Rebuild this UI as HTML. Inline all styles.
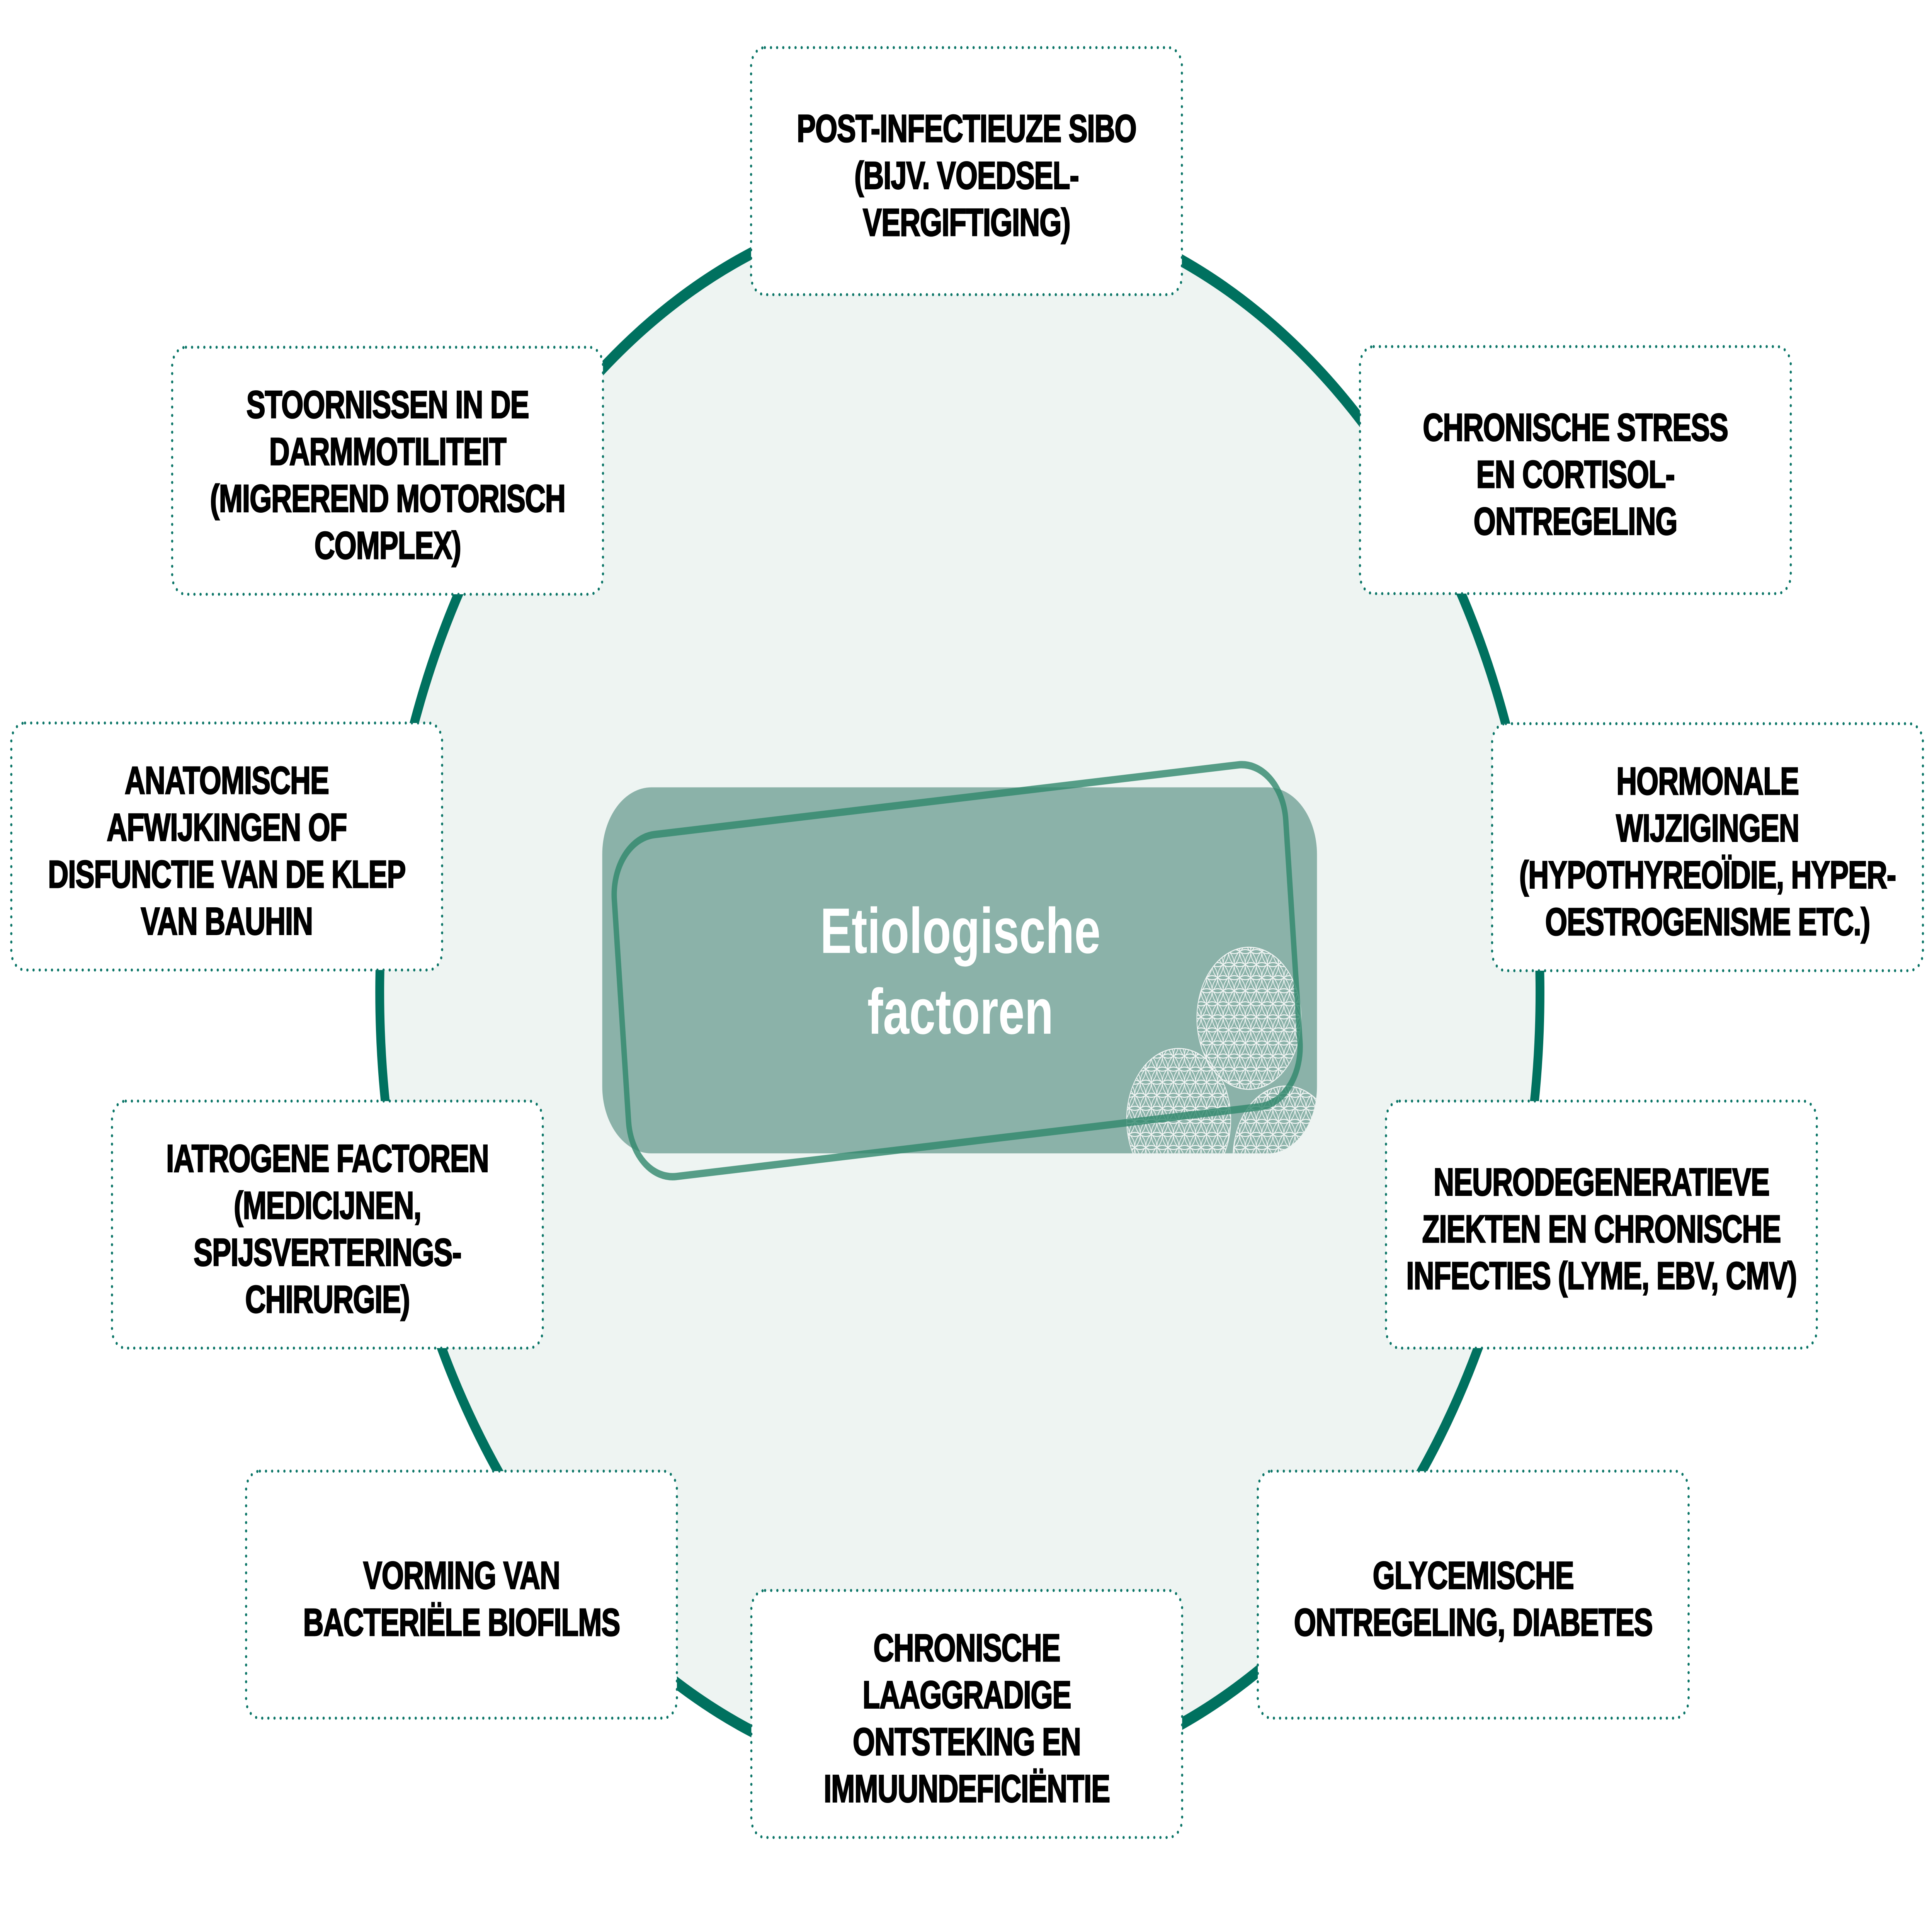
<!DOCTYPE html>
<html><head><meta charset="utf-8"><style>
html,body{margin:0;padding:0;background:#fff;overflow:hidden;}
svg{display:block;width:100vw;height:100vh;}
.t{font-family:"Liberation Sans",sans-serif;font-weight:bold;font-size:116px;letter-spacing:-2px;fill:#000;stroke:#000;stroke-width:3.5px;text-anchor:middle;}
.b{fill:#fff;stroke:#0b7567;stroke-width:9;stroke-dasharray:0 25;stroke-linecap:round;}
.ti{font-family:"Liberation Sans",sans-serif;font-weight:bold;font-size:192px;fill:#fff;text-anchor:middle;}
</style></head><body>
<svg viewBox="0 0 7866 5764" preserveAspectRatio="none" xmlns="http://www.w3.org/2000/svg">
<defs>
<pattern id="fol" width="45" height="77.94" patternUnits="userSpaceOnUse" x="4800" y="2800">
<g fill="none" stroke="#f2f5f4" stroke-width="3">
<circle cx="-45" cy="-77.94" r="45"/><circle cx="0" cy="-77.94" r="45"/><circle cx="45" cy="-77.94" r="45"/><circle cx="90" cy="-77.94" r="45"/>
<circle cx="-45" cy="0" r="45"/><circle cx="0" cy="0" r="45"/><circle cx="45" cy="0" r="45"/><circle cx="90" cy="0" r="45"/>
<circle cx="-45" cy="77.94" r="45"/><circle cx="0" cy="77.94" r="45"/><circle cx="45" cy="77.94" r="45"/><circle cx="90" cy="77.94" r="45"/>
<circle cx="-45" cy="155.88" r="45"/><circle cx="0" cy="155.88" r="45"/><circle cx="45" cy="155.88" r="45"/><circle cx="90" cy="155.88" r="45"/>
<circle cx="-22.5" cy="-38.97" r="45"/><circle cx="22.5" cy="-38.97" r="45"/><circle cx="67.5" cy="-38.97" r="45"/>
<circle cx="-22.5" cy="38.97" r="45"/><circle cx="22.5" cy="38.97" r="45"/><circle cx="67.5" cy="38.97" r="45"/>
<circle cx="-22.5" cy="116.91" r="45"/><circle cx="22.5" cy="116.91" r="45"/><circle cx="67.5" cy="116.91" r="45"/>
</g>
</pattern>
<clipPath id="rc"><rect x="2452" y="2349" width="2910" height="1092" rx="200"/></clipPath>
</defs>
<rect width="7866" height="5764" fill="#fff"/>
<circle cx="3908" cy="2960" r="2362" fill="#eef4f2" stroke="#00715f" stroke-width="36"/>
<rect x="2452" y="2349" width="2910" height="1092" rx="200" fill="#8bb2a9"/>
<g clip-path="url(#rc)">
<circle cx="5085" cy="3038" r="212" fill="url(#fol)" stroke="#f2f5f4" stroke-width="3"/>
<circle cx="4799" cy="3340" r="212" fill="url(#fol)" stroke="#f2f5f4" stroke-width="3"/>
<circle cx="5235" cy="3455" r="215" fill="url(#fol)" stroke="#f2f5f4" stroke-width="3"/>
</g>
<rect x="2525" y="2384" width="2744" height="1024" rx="180" fill="none" stroke="#2f876c" stroke-opacity="0.8" stroke-width="22" transform="rotate(-5 3897 2896)"/>
<text class="ti" x="3910" y="2843">Etiologische</text>
<text class="ti" x="3910" y="3084">factoren</text>

<rect class="b" x="3058" y="142" width="1754" height="737" rx="56"/>
<text class="t" x="3935"><tspan x="3935" y="423">POST-INFECTIEUZE SIBO</tspan><tspan x="3935" y="563">(BIJV. VOEDSEL-</tspan><tspan x="3935" y="703">VERGIFTIGING)</tspan></text>

<rect class="b" x="5537" y="1034" width="1754" height="737" rx="56"/>
<text class="t"><tspan x="6414" y="1315">CHRONISCHE STRESS</tspan><tspan x="6414" y="1455">EN CORTISOL-</tspan><tspan x="6414" y="1595">ONTREGELING</tspan></text>

<rect class="b" x="6075" y="2159" width="1754" height="737" rx="56"/>
<text class="t"><tspan x="6952" y="2370">HORMONALE</tspan><tspan x="6952" y="2510">WIJZIGINGEN</tspan><tspan x="6952" y="2650">(HYPOTHYREOÏDIE, HYPER-</tspan><tspan x="6952" y="2790">OESTROGENISME ETC.)</tspan></text>

<rect class="b" x="5643" y="3285" width="1754" height="737" rx="56"/>
<text class="t"><tspan x="6520" y="3566">NEURODEGENERATIEVE</tspan><tspan x="6520" y="3706">ZIEKTEN EN CHRONISCHE</tspan><tspan x="6520" y="3846">INFECTIES (LYME, EBV, CMV)</tspan></text>

<rect class="b" x="5121" y="4389" width="1754" height="737" rx="56"/>
<text class="t"><tspan x="5998" y="4740">GLYCEMISCHE</tspan><tspan x="5998" y="4880">ONTREGELING, DIABETES</tspan></text>

<rect class="b" x="3059" y="4745" width="1754" height="737" rx="56"/>
<text class="t"><tspan x="3936" y="4956">CHRONISCHE</tspan><tspan x="3936" y="5096">LAAGGRADIGE</tspan><tspan x="3936" y="5236">ONTSTEKING EN</tspan><tspan x="3936" y="5376">IMMUUNDEFICIËNTIE</tspan></text>

<rect class="b" x="1002" y="4389" width="1754" height="737" rx="56"/>
<text class="t"><tspan x="1879" y="4740">VORMING VAN</tspan><tspan x="1879" y="4880">BACTERIËLE BIOFILMS</tspan></text>

<rect class="b" x="456" y="3285" width="1754" height="737" rx="56"/>
<text class="t"><tspan x="1333" y="3496">IATROGENE FACTOREN</tspan><tspan x="1333" y="3636">(MEDICIJNEN,</tspan><tspan x="1333" y="3776">SPIJSVERTERINGS-</tspan><tspan x="1333" y="3916">CHIRURGIE)</tspan></text>

<rect class="b" x="46" y="2157" width="1754" height="737" rx="56"/>
<text class="t"><tspan x="923" y="2368">ANATOMISCHE</tspan><tspan x="923" y="2508">AFWIJKINGEN OF</tspan><tspan x="923" y="2648">DISFUNCTIE VAN DE KLEP</tspan><tspan x="923" y="2788">VAN BAUHIN</tspan></text>

<rect class="b" x="701" y="1036" width="1754" height="737" rx="56"/>
<text class="t"><tspan x="1578" y="1247">STOORNISSEN IN DE</tspan><tspan x="1578" y="1387">DARMMOTILITEIT</tspan><tspan x="1578" y="1527">(MIGREREND MOTORISCH</tspan><tspan x="1578" y="1667">COMPLEX)</tspan></text>
</svg>
</body></html>
